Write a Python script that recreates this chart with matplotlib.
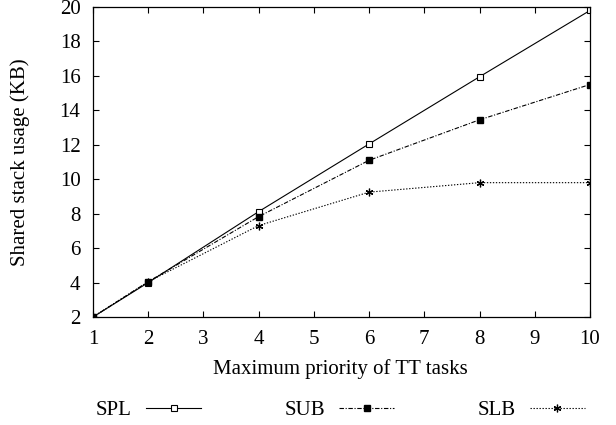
import matplotlib
matplotlib.use("Agg")
import matplotlib.pyplot as plt

plt.rcParams['font.family'] = ['Liberation Serif', 'DejaVu Serif']
plt.rcParams['font.size'] = 15

priority = [1, 2, 4, 6, 8, 10]
spl = [2.0, 4.0, 8.12, 12.05, 15.95, 19.8]
sub = [2.0, 4.05, 7.83, 11.1, 13.45, 15.5]
slb = [2.0, 4.05, 7.31, 9.25, 9.8, 9.8]

fig = plt.figure(figsize=(6.16, 4.25), dpi=100)
L, R, T, B = 93, 590, 7, 317
ax = fig.add_axes([L/616, 1 - B/425, (R - L)/616, (B - T)/425])

ax.plot(priority, spl, color='black', lw=0.8, marker='s', ms=4.5,
        mfc='white', mec='black', mew=0.8, label='SPL')
ax.plot(priority, sub, color='black', lw=0.8, marker='s', ms=5,
        mfc='black', mec='black', dashes=(4, 1.5, 1, 1.5), label='SUB')
ax.plot(priority, slb, color='black', lw=0.8, marker=(6, 2, 0), ms=5.5,
        mew=0.9, dashes=(1.2, 1.5), label='SLB')

ax.set_xlim(1, 10)
ax.set_ylim(2, 20)
ax.set_xticks(range(1, 11))
ax.set_yticks(range(2, 21, 2))
ax.tick_params(direction='in', top=True, right=True, length=4.5, width=0.8)
ax.tick_params(axis='x', pad=9)
ax.tick_params(axis='y', pad=9)
for s in ax.spines.values():
    s.set_linewidth(0.9)

ax.set_xlabel('Maximum priority of TT tasks')
ax.xaxis.set_label_coords(0.498, -0.137)
ax.set_ylabel('Shared stack usage (KB)')
ax.yaxis.set_label_coords(-0.127, 0.5)

fig.legend(loc='center', bbox_to_anchor=(340.5/616, 1 - 410/425), ncol=3,
           frameon=False, markerfirst=False, handlelength=2.65,
           columnspacing=4.0, handletextpad=0.67)

fig.savefig('out.png', dpi=100)
